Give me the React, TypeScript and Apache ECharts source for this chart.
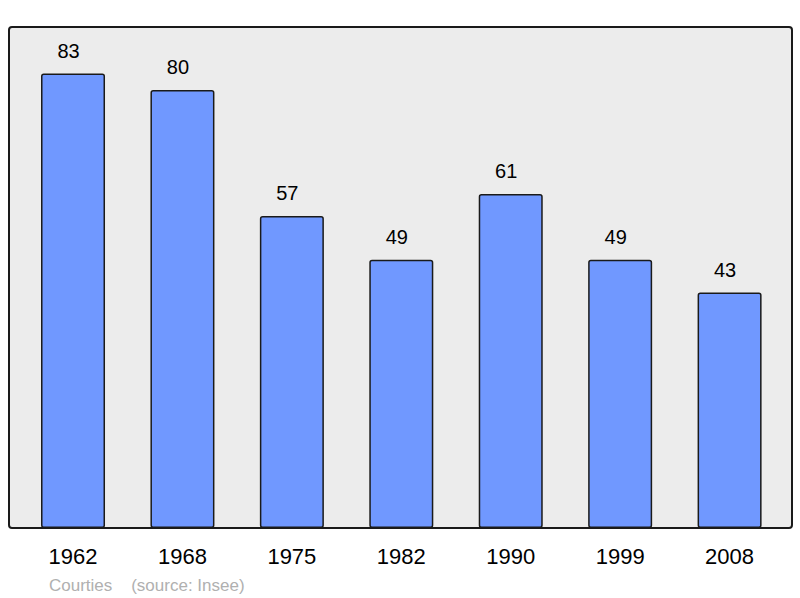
import React, { useEffect, useRef } from "react";
import * as echarts from "echarts";

const categories = ["1962", "1968", "1975", "1982", "1990", "1999", "2008"];
const population = [83, 80, 57, 49, 61, 49, 43];
const footerText = "Courties    (source: Insee)";

export default function App() {
  const ref = useRef<HTMLDivElement>(null);
  useEffect(() => {
    if (!ref.current) return;
    const chart = echarts.init(ref.current, undefined, { renderer: "svg" });
    chart.setOption({
      animation: false,
      backgroundColor: "#ffffff",
      textStyle: { fontFamily: "Liberation Sans, Arial, sans-serif" },
      graphic: [
        {
          type: "rect",
          z: -10,
          shape: { x: 9, y: 27, width: 783, height: 501, r: 3 },
          style: { fill: "#ececec", stroke: "#1a1a1a", lineWidth: 2 },
          silent: true,
        },
        {
          type: "text",
          left: 49,
          top: 577,
          style: {
            text: footerText,
            fill: "#b0b0b0",
            font: "17px Liberation Sans, Arial, sans-serif",
          },
        },
      ],
      grid: { left: 18.3, right: 15.7, top: 27, bottom: 70 },
      xAxis: {
        type: "category",
        data: categories,
        axisLine: { show: false },
        axisTick: { show: false },
        axisLabel: {
          color: "#000",
          fontSize: 22,
          margin: 17,
          fontFamily: "Liberation Sans, Arial, sans-serif",
        },
      },
      yAxis: {
        type: "value",
        min: 0,
        max: 91.5,
        show: false,
        splitLine: { show: false },
      },
      series: [
        {
          type: "bar",
          data: population,
          barWidth: 64,
          itemStyle: {
            color: "#7098ff",
            borderColor: "#1a1a1a",
            borderWidth: 1.5,
            borderRadius: 2,
          },
          label: {
            show: true,
            position: "top",
            distance: 13,
            offset: [-4.5, 0],
            color: "#000",
            fontSize: 20,
            fontFamily: "Liberation Sans, Arial, sans-serif",
          },
        },
      ],
    });
    return () => chart.dispose();
  }, []);
  return (
    <div
      ref={ref}
      style={{ position: "fixed", left: 0, top: 0, width: 800, height: 598 }}
    />
  );
}
